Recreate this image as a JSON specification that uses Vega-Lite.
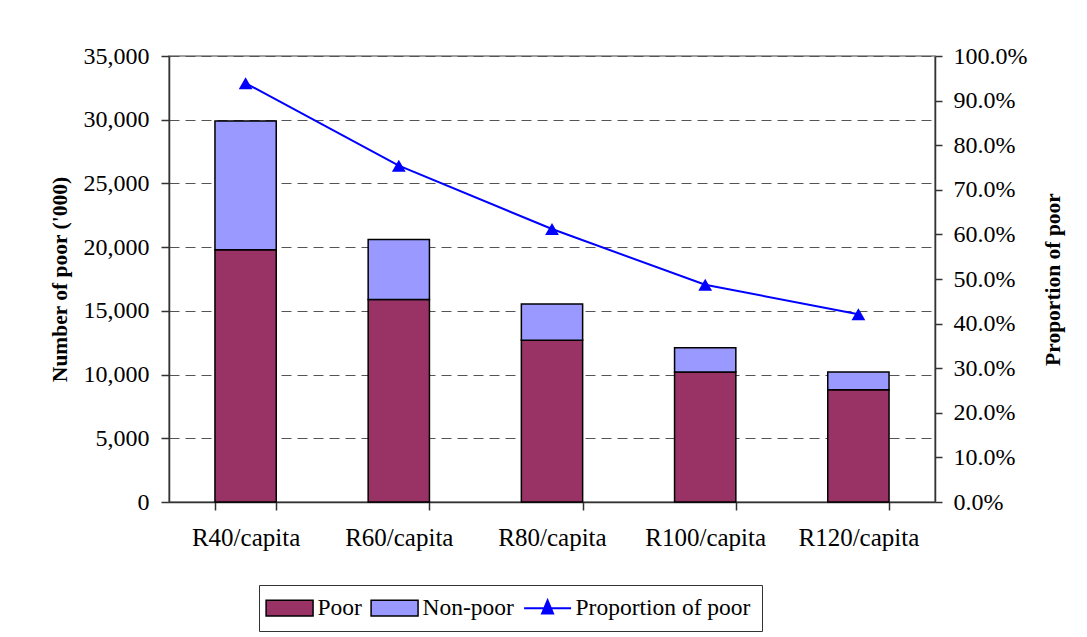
{
  "$schema": "https://vega.github.io/schema/vega-lite/v6.json",
  "autosize": {"type": "none"},
  "padding": {"left": 169, "top": 56, "right": 152, "bottom": 135},
  "width": 766,
  "height": 446,
  "background": "white",
  "config": {
    "view": {"stroke": "#808080", "strokeWidth": 1.5},
    "font": "Liberation Serif",
    "axis": {
      "labelFont": "Liberation Serif",
      "labelFontSize": 24,
      "labelColor": "black",
      "titleFont": "Liberation Serif",
      "titleFontSize": 21.5,
      "titleFontWeight": "bold",
      "titleColor": "black",
      "domainColor": "#333333",
      "domainWidth": 1.5,
      "tickColor": "#333333",
      "tickWidth": 1.5
    }
  },
  "datasets": {
    "bars": [
      {"category": "R40/capita", "series": "Poor", "value": 19800},
      {"category": "R40/capita", "series": "Non-poor", "value": 10100},
      {"category": "R60/capita", "series": "Poor", "value": 15900},
      {"category": "R60/capita", "series": "Non-poor", "value": 4700},
      {"category": "R80/capita", "series": "Poor", "value": 12700},
      {"category": "R80/capita", "series": "Non-poor", "value": 2830},
      {"category": "R100/capita", "series": "Poor", "value": 10200},
      {"category": "R100/capita", "series": "Non-poor", "value": 1900},
      {"category": "R120/capita", "series": "Poor", "value": 8800},
      {"category": "R120/capita", "series": "Non-poor", "value": 1400}
    ],
    "line": [
      {"category": "R40/capita", "proportion": 0.939},
      {"category": "R60/capita", "proportion": 0.754},
      {"category": "R80/capita", "proportion": 0.612},
      {"category": "R100/capita", "proportion": 0.487},
      {"category": "R120/capita", "proportion": 0.421}
    ]
  },
  "encoding": {
    "x": {
      "field": "category",
      "type": "nominal",
      "sort": ["R40/capita", "R60/capita", "R80/capita", "R100/capita", "R120/capita"],
      "scale": {"paddingInner": 0.6, "paddingOuter": 0.3},
      "axis": {
        "title": null,
        "labelAngle": 0,
        "labelFontSize": 25,
        "tickBand": "extent",
        "tickSize": 8,
        "labelPadding": 15,
        "domainColor": "#333333"
      }
    }
  },
  "layer": [
    {
      "data": {"name": "bars"},
      "mark": {"type": "bar", "stroke": "black", "strokeWidth": 1.5},
      "encoding": {
        "y": {
          "field": "value",
          "type": "quantitative",
          "stack": "zero",
          "scale": {"domain": [0, 35000], "nice": false},
          "axis": {
            "title": "Number of poor ('000)",
            "values": [0, 5000, 10000, 15000, 20000, 25000, 30000, 35000],
            "format": ",d",
            "tickSize": 8,
            "labelPadding": 12,
            "titlePadding": 12,
            "grid": true,
            "gridColor": "#555555",
            "gridDash": [10, 6],
            "gridWidth": 1.2
          }
        },
        "color": {
          "field": "series",
          "type": "nominal",
          "scale": {
            "domain": ["Poor", "Non-poor", "Proportion of poor"],
            "range": ["#993366", "#9999FF", "#0000FF"]
          },
          "legend": {
            "orient": "none",
            "legendX": 90,
            "legendY": 529,
            "direction": "horizontal",
            "title": null,
            "labelFont": "Liberation Serif",
            "labelFontSize": 23.5,
            "labelColor": "black",
            "labelLimit": 0,
            "symbolType": "M-1,-0.5H2V0.5H-1Z",
            "symbolSize": 980,
            "symbolStrokeColor": "black",
            "symbolStrokeWidth": 1.5,
            "labelOffset": 24,
            "columnPadding": 6,
            "padding": 11,
            "strokeColor": "#333333",
            "fillColor": "white",
            "encode": {
              "symbols": {
                "enter": {
                  "shape": {"signal": "datum.label === 'Proportion of poor' ? 'M-1,0H2M0.5,-0.5L0.85,0.35H0.15Z' : 'M-1,-0.5H2V0.5H-1Z'"}
                },
                "update": {
                  "shape": {"signal": "datum.label === 'Proportion of poor' ? 'M-1,0H2M0.5,-0.5L0.85,0.35H0.15Z' : 'M-1,-0.5H2V0.5H-1Z'"},
                  "fill": {"signal": "datum.label === 'Poor' ? '#993366' : (datum.label === 'Non-poor' ? '#9999FF' : '#0000FF')"},
                  "stroke": {"signal": "datum.label === 'Proportion of poor' ? '#0000FF' : 'black'"},
                  "strokeWidth": {"signal": "datum.label === 'Proportion of poor' ? 2 : 1.5"},
                  "opacity": {"value": 1},
                  "fillOpacity": {"value": 1}
                }
              }
            }
          }
        },
        "order": {"field": "series", "sort": "descending"}
      }
    },
    {
      "data": {"name": "line"},
      "mark": {
        "type": "line",
        "color": "#0000FF",
        "strokeWidth": 2,
        "point": {"shape": "triangle-up", "size": 190, "filled": true, "color": "#0000FF", "opacity": 1}
      },
      "encoding": {
        "y": {
          "field": "proportion",
          "type": "quantitative",
          "scale": {"domain": [0, 1], "nice": false},
          "axis": {
            "orient": "right",
            "title": "Proportion of poor",
            "titleAngle": 270,
            "values": [0, 0.1, 0.2, 0.3, 0.4, 0.5, 0.6, 0.7, 0.8, 0.9, 1.0],
            "format": ".1%",
            "tickSize": 7,
            "labelPadding": 11,
            "titlePadding": 38,
            "grid": false
          }
        }
      }
    }
  ],
  "resolve": {"scale": {"y": "independent"}}
}
